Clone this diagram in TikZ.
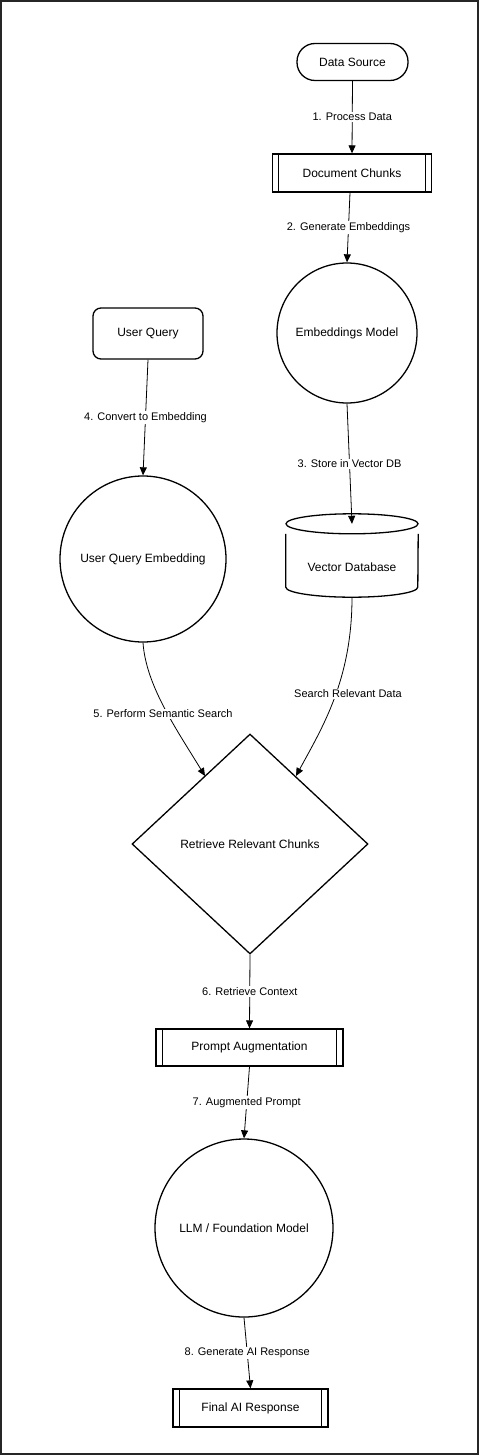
\documentclass[tikz,border=0pt]{standalone}
\usepackage{fontspec}
\setmainfont{Liberation Sans}
\usetikzlibrary{arrows.meta,shapes.geometric}
\begin{document}
\begin{tikzpicture}[x=1pt,y=-1pt,
  shp/.style={draw,line width=1.3pt,inner sep=0pt,font=\fontsize{12}{14}\selectfont,align=center},
  stadium/.style={shp,rectangle,rounded corners=18pt},
  rbox/.style={shp,rectangle,rounded corners=8pt},
  proc/.style={shp,rectangle},
  circ/.style={shp,circle},
  dia/.style={shp,diamond},
  lbl/.style={fill=white,inner sep=1pt,font=\fontsize{11}{13}\selectfont},
  conn/.style={draw,line width=0.8pt,-{Triangle[length=8pt,width=7pt]}},
  inner/.style={line width=1pt}
]
\useasboundingbox (0,0) rectangle (479,1455);
\draw[line width=1.6pt,black!85] (1,1) rectangle (478,1454);

% nodes
\node[stadium,minimum width=111pt,minimum height=37pt] (ds) at (352.5,62) {Data Source};
\node[proc,minimum width=159pt,minimum height=38pt] (dc) at (352,173) {Document Chunks};
\node[circ,minimum size=140pt] (em) at (347,333) {Embeddings Model};
\node[rbox,minimum width=110pt,minimum height=51pt] (uq) at (148,333.5) {User Query};
\node[circ,minimum size=166pt] (uqe) at (143,559) {User Query Embedding};
% vector database cylinder
\node[minimum width=132pt,minimum height=73pt,inner sep=0pt] (db) at (352,560.5) {};
\draw[line width=1.3pt] (db.north) ellipse [x radius=66pt, y radius=10pt];
\draw[line width=1.3pt] ([yshift=-10pt]db.north west) -- ([yshift=10pt]db.south west)
   arc[start angle=180,end angle=360,x radius=66pt,y radius=10pt]
   -- ([yshift=-10pt]db.north east);
\node[font=\fontsize{12}{14}\selectfont] (dbt) at (352,567) {Vector Database};
\node[dia,minimum width=236pt,minimum height=220pt] (rr) at (250,844) {Retrieve Relevant Chunks};
\node[proc,minimum width=187pt,minimum height=37pt] (pa) at (249.5,1047.5) {Prompt Augmentation};
\node[circ,minimum size=178pt] (llm) at (244,1228) {LLM / Foundation Model};
\node[proc,minimum width=155pt,minimum height=38pt] (fr) at (250.5,1408) {Final AI Response};

% inner lines of process boxes
\foreach \n/\d in {dc/6.5pt,pa/7pt,fr/7pt}{
  \draw[inner] ([xshift=\d]\n.north west) -- ([xshift=\d]\n.south west);
  \draw[inner] ([xshift=-\d]\n.north east) -- ([xshift=-\d]\n.south east);
}

% connectors
\draw[conn] (ds.south) -- node[lbl] {1. Process Data} (dc.north);
\draw[conn] ([xshift=-2pt]dc.south) -- node[lbl] {2. Generate Embeddings} (em.north);
\draw[conn] (em.south) -- node[lbl] {3. Store in Vector DB} (db.north);
\draw[conn] (uq.south) -- node[lbl] {4. Convert to Embedding} (uqe.north);
\coordinate (e5) at (205,776);
\coordinate (eS) at (296,776);
\draw[conn] (uqe.south) .. controls (146,685) and (175,727) .. (e5)
   node[lbl,at={(163,714)}] {5. Perform Semantic Search};
\draw[conn] (db.south) .. controls (352,680) and (322,728) .. (eS)
   node[lbl,at={(348,694)}] {Search Relevant Data};
\draw[conn] (rr.south) -- node[lbl] {6. Retrieve Context} (pa.north);
\draw[conn] (pa.south) -- node[lbl] {7. Augmented Prompt} (llm.north);
\draw[conn] (llm.south) -- node[lbl] {8. Generate AI Response} (fr.north);
\end{tikzpicture}
\end{document}
